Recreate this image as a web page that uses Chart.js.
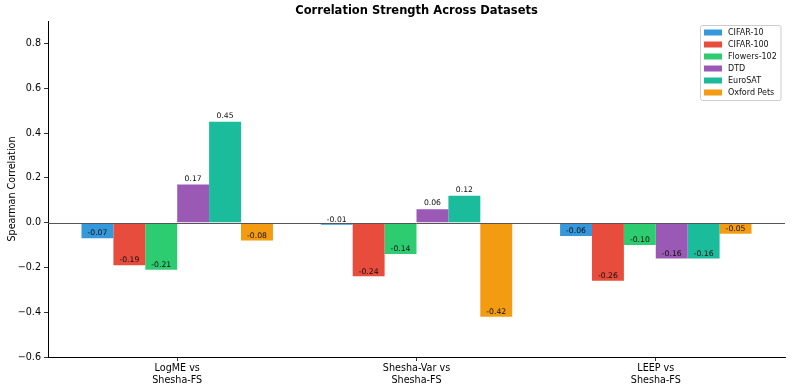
<!DOCTYPE html>
<html><head><meta charset="utf-8">
<script src="https://cdn.jsdelivr.net/npm/chart.js@4.4.0/dist/chart.umd.min.js"></script>
<style>html,body{margin:0;padding:0;background:#fff}</style>
</head><body>
<canvas id="c" width="792" height="390"></canvas>
<script>
const categories = [["LogME vs", "Shesha-FS"], ["Shesha-Var vs", "Shesha-FS"], ["LEEP vs", "Shesha-FS"]];
const seriesNames = ["CIFAR-10", "CIFAR-100", "Flowers-102", "DTD", "EuroSAT", "Oxford Pets"];
const cifar10 = [-0.07, -0.01, -0.06];
const cifar100 = [-0.19, -0.24, -0.26];
const flowers102 = [-0.21, -0.14, -0.10];
const dtd = [0.17, 0.06, -0.16];
const eurosat = [0.45, 0.12, -0.16];
const oxfordPets = [-0.08, -0.42, -0.05];
const yTicks = [-0.6, -0.4, -0.2, 0.0, 0.2, 0.4, 0.6, 0.8];
const colors = ["#3498db", "#e74c3c", "#2ecc71", "#9b59b6", "#1abc9c", "#f39c12"];

const FONT = "'DejaVu Sans', sans-serif";
const allSeries = [cifar10, cifar100, flowers102, dtd, eurosat, oxfordPets];

const datasets = allSeries.map((vals, k) => ({
  label: seriesNames[k],
  data: vals.map((v, i) => ({ x: i, y: v })),
  backgroundColor: colors[k],
  borderWidth: 0,
  categoryPercentage: 0.8,
  barPercentage: 1.0
}));

const fmtY = v => (v < 0 ? '\u2212' + Math.abs(v).toFixed(1) : v.toFixed(1));

const decor = {
  id: 'decor',
  afterDatasetsDraw(chart) {
    const ctx = chart.ctx;
    const ca = chart.chartArea;
    const ys = chart.scales.y;
    const y0 = Math.round(ys.getPixelForValue(0)) + 0.5;
    ctx.save();
    ctx.strokeStyle = '#555';
    ctx.lineWidth = 1;
    ctx.beginPath();
    ctx.moveTo(ca.left, y0);
    ctx.lineTo(ca.right, y0);
    ctx.stroke();
    ctx.font = '7.7px ' + FONT;
    ctx.fillStyle = '#111';
    ctx.textAlign = 'center';
    ctx.textBaseline = 'bottom';
    chart.data.datasets.forEach((ds, k) => {
      const meta = chart.getDatasetMeta(k);
      meta.data.forEach((el, i) => {
        const v = ds.data[i].y;
        const yy = v >= 0 ? el.y - 2 : el.y - 1;
        ctx.fillText(v.toFixed(2), el.x, yy);
      });
    });
    ctx.restore();
  },
  afterDraw(chart) {
    const ctx = chart.ctx;
    const ca = chart.chartArea;
    ctx.save();
    ctx.font = 'bold 11.5px ' + FONT;
    ctx.fillStyle = '#000';
    ctx.textAlign = 'center';
    ctx.textBaseline = 'middle';
    ctx.fillText('Correlation Strength Across Datasets', (ca.left + ca.right) / 2, 11.5);
    ctx.save();
    ctx.translate(12, (ca.top + ca.bottom) / 2);
    ctx.rotate(-Math.PI / 2);
    ctx.font = '9.6px ' + FONT;
    ctx.fillText('Spearman Correlation', 0, 0);
    ctx.restore();
    const bx = 700.5, by = 25.5, bw = 80.5, bh = 75;
    ctx.fillStyle = 'rgba(255,255,255,0.85)';
    ctx.strokeStyle = '#cccccc';
    ctx.lineWidth = 1;
    ctx.beginPath();
    ctx.roundRect(bx, by, bw, bh, 2);
    ctx.fill();
    ctx.stroke();
    ctx.font = '8px ' + FONT;
    ctx.textAlign = 'left';
    ctx.textBaseline = 'middle';
    chart.data.datasets.forEach((ds, k) => {
      const ry = 32.5 + k * 12;
      ctx.fillStyle = ds.backgroundColor;
      ctx.fillRect(704, ry - 3, 18, 6);
      ctx.fillStyle = '#111';
      ctx.fillText(ds.label, 728, ry);
    });
    ctx.restore();
  }
};

new Chart(document.getElementById('c'), {
  type: 'bar',
  data: { datasets },
  options: {
    responsive: false,
    animation: false,
    devicePixelRatio: 1,
    layout: { padding: { top: 21, right: 7, left: 0, bottom: 0 } },
    plugins: { legend: { display: false }, title: { display: false }, tooltip: { enabled: false } },
    scales: {
      x: {
        type: 'linear',
        min: -0.54,
        max: 2.54,
        offset: false,
        afterBuildTicks: s => { s.ticks = categories.map((c, i) => ({ value: i })); },
        afterFit: s => { s.height = 33; },
        ticks: {
          font: { family: FONT, size: 9.6 },
          color: '#000',
          padding: 2,
          maxRotation: 0,
          autoSkip: false,
          callback: (v) => categories[Math.round(v)] || ''
        },
        grid: { display: true, offset: false, drawOnChartArea: false, drawTicks: true, tickLength: 4, color: '#000', lineWidth: 0.8 },
        border: { display: true, color: '#000', width: 1 }
      },
      y: {
        min: -0.6,
        max: 0.9,
        afterBuildTicks: s => { s.ticks = yTicks.map(v => ({ value: v })); },
        afterFit: s => { s.width = 48; },
        ticks: {
          font: { family: FONT, size: 9.6 },
          color: '#000',
          padding: 3,
          callback: v => fmtY(v)
        },
        grid: { display: true, drawOnChartArea: false, drawTicks: true, tickLength: 4, color: '#000', lineWidth: 0.8 },
        border: { display: true, color: '#000', width: 1 }
      }
    }
  },
  plugins: [decor]
});
</script>
</body></html>
